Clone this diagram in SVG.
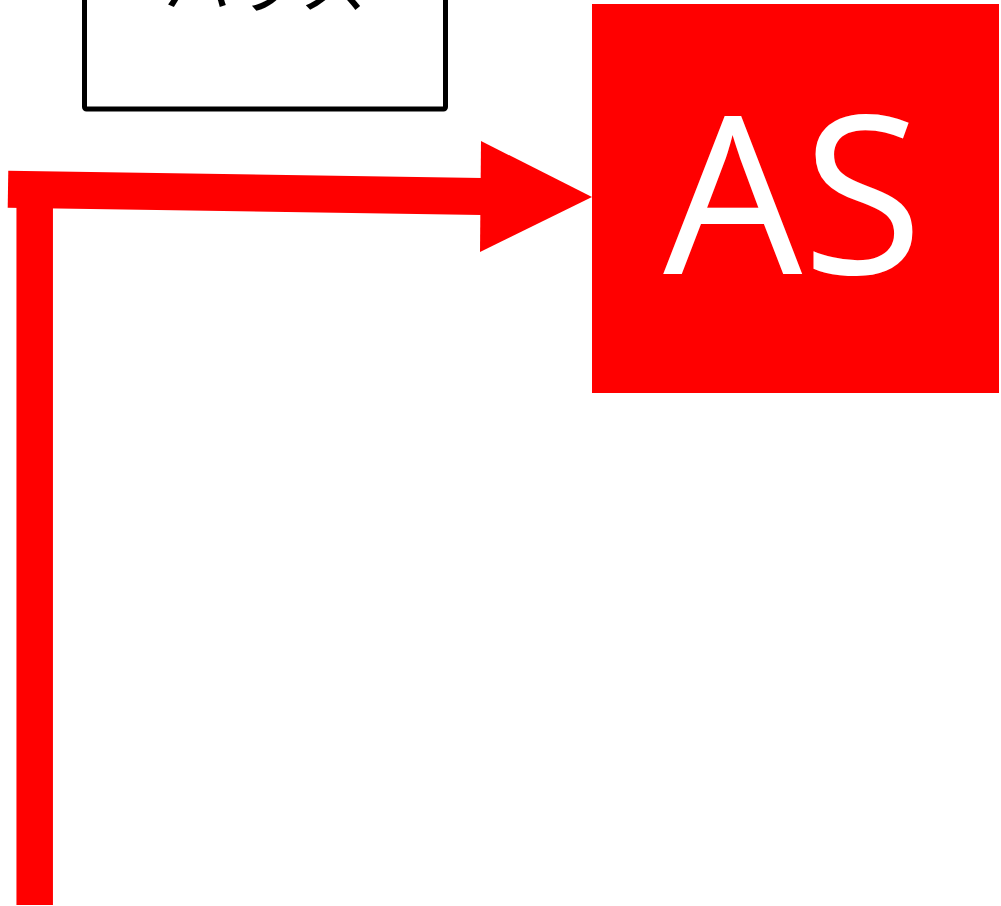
<svg xmlns="http://www.w3.org/2000/svg" width="1001" height="906" viewBox="0 0 1001 906">
<style>
.lbl{font-family:"Noto Sans CJK JP","Noto Sans",sans-serif;font-size:68px;fill:#000}
.as{font-family:"Open Sans","Noto Sans",sans-serif;font-size:220px;fill:#fff}
.conn{fill:none;stroke:#ff0000}
</style>
<rect width="1001" height="906" fill="#fff"/>
<g id="connectors">
<line class="conn" x1="34.7" y1="200" x2="34.7" y2="905" stroke-width="36.5"/>
<path class="conn" d="M8 189.3 L482 196.6" stroke-width="37"/>
<polygon points="481,141 592,197 480,252" fill="#ff0000"/>
</g>
<g id="node-house">
<rect x="84.5" y="-60" width="361" height="169" rx="2" fill="#fff" stroke="#000" stroke-width="5"/>
<text class="lbl" x="265" y="8" text-anchor="middle">ハウス</text>
</g>
<g id="node-as">
<rect x="592" y="4" width="407" height="389" fill="#ff0000"/>
<text class="as" x="793" y="274" text-anchor="middle">AS</text>
</g>
</svg>
